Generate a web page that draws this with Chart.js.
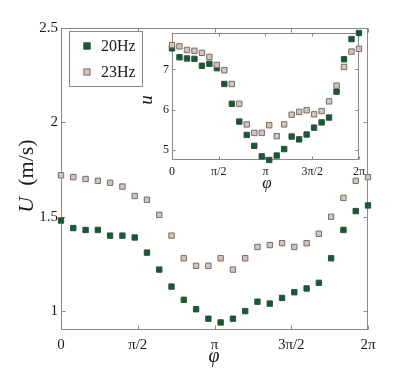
<!DOCTYPE html>
<html>
<head>
<meta charset="utf-8">
<script src="https://cdn.jsdelivr.net/npm/chart.js@4.4.0/dist/chart.umd.min.js"></script>
<style>
  html, body { margin: 0; padding: 0; background: #fff; }
  #wrap { position: relative; width: 407px; height: 371px; overflow: hidden; }
  #main { position: absolute; left: 0; top: 0; }
  #inset { position: absolute; left: 120px; top: 20px; }
</style>
</head>
<body>
<div id="wrap">
  <canvas id="main" width="407" height="371"></canvas>
  <canvas id="inset" width="250" height="180"></canvas>
</div>
<script>
// ---- data ----
const phi = [0, 0.251, 0.503, 0.754, 1.005, 1.257, 1.508, 1.759, 2.011, 2.262, 2.513, 2.765, 3.016,
             3.267, 3.519, 3.770, 4.021, 4.273, 4.524, 4.775, 5.027, 5.278, 5.529, 5.781, 6.032, 6.283];

const U20 = [1.48, 1.44, 1.43, 1.43, 1.40, 1.40, 1.39, 1.31, 1.22, 1.13, 1.06, 1.01, 0.96,
             0.94, 0.96, 1.00, 1.05, 1.04, 1.07, 1.10, 1.12, 1.15, 1.28, 1.43, 1.53, 1.56];
const U23 = [1.72, 1.71, 1.70, 1.69, 1.68, 1.66, 1.61, 1.59, 1.51, 1.40, 1.28, 1.24, 1.24,
             1.28, 1.22, 1.28, 1.34, 1.35, 1.36, 1.34, 1.36, 1.41, 1.50, 1.60, 1.69, 1.71];

const u20 = [7.52, 7.30, 7.27, 7.26, 7.09, 7.14, 7.03, 6.64, 6.15, 5.71, 5.38, 5.11, 4.85,
             4.76, 4.87, 5.03, 5.34, 5.27, 5.39, 5.56, 5.69, 5.81, 6.45, 7.25, 7.75, 7.90];
const u23 = [7.60, 7.57, 7.48, 7.46, 7.41, 7.31, 7.11, 6.98, 6.64, 6.15, 5.64, 5.43, 5.43,
             5.62, 5.35, 5.64, 5.88, 5.95, 5.99, 5.89, 5.97, 6.21, 6.60, 7.06, 7.44, 7.51];

const seriesLabels = ['20Hz', '23Hz'];
const xTicks = [0, Math.PI / 2, Math.PI, 3 * Math.PI / 2, 2 * Math.PI];
const xTickLabels = ['0', 'π/2', 'π', '3π/2', '2π'];
const mainYTicks = [1, 1.5, 2, 2.5];
const mainYTickLabels = ['1', '1.5', '2', '2.5'];
const insetYTicks = [5, 6, 7];
const insetYTickLabels = ['5', '6', '7'];

const SERIF = '"Liberation Serif", "DejaVu Serif", serif';
const AXIS = '#8a8a8a';
const GREEN = '#0c5f30';
const BEIGE = '#d8c4b6';
const EDGE = '#6f6f6f';

const toPoints = (ys) => ys.map((y, i) => ({ x: phi[i], y }));

function makeDatasets(a, b, r) {
  return [
    { label: seriesLabels[0], data: toPoints(a), backgroundColor: GREEN, borderColor: '#3c4a40',
      borderWidth: 1, pointStyle: 'rect', pointRadius: r, pointHoverRadius: r, showLine: false, clip: false, order: 1 },
    { label: seriesLabels[1], data: toPoints(b), backgroundColor: BEIGE, borderColor: EDGE,
      borderWidth: 1, pointStyle: 'rect', pointRadius: r, pointHoverRadius: r, showLine: false, clip: false, order: 0 },
  ];
}

// box + inward ticks, axis titles, optional legend
const framePlugin = {
  id: 'frame',
  beforeDraw(chart, args, o) {
    if (!o.fill) return;
    const a = chart.chartArea;
    chart.ctx.save();
    chart.ctx.fillStyle = o.fill;
    chart.ctx.fillRect(a.left, a.top, a.right - a.left, a.bottom - a.top);
    chart.ctx.restore();
  },
  beforeDatasetsDraw(chart, args, o) {
    const { ctx, chartArea: a, scales } = chart;
    const L = Math.round(a.left) + 0.5, R = Math.round(a.right) - 0.5;
    const T = Math.round(a.top) + 0.5, B = Math.round(a.bottom) - 0.5;
    ctx.save();
    ctx.strokeStyle = AXIS;
    ctx.lineWidth = 1;
    ctx.strokeRect(L, T, R - L, B - T);
    ctx.beginPath();
    scales.x.ticks.forEach((t) => {
      const px = Math.round(scales.x.getPixelForValue(t.value)) + 0.5;
      ctx.moveTo(px, B); ctx.lineTo(px, B - o.tickLen);
      ctx.moveTo(px, T); ctx.lineTo(px, T + o.tickLen);
    });
    scales.y.ticks.forEach((t) => {
      const py = Math.round(scales.y.getPixelForValue(t.value)) + 0.5;
      ctx.moveTo(L, py); ctx.lineTo(L + o.tickLen, py);
      ctx.moveTo(R, py); ctx.lineTo(R - o.tickLen, py);
    });
    ctx.stroke();
    ctx.restore();
  },
  afterDraw(chart, args, o) {
    const ctx = chart.ctx;
    ctx.save();
    ctx.fillStyle = '#1a1a1a';
    ctx.textBaseline = 'middle';
    // y title, rotated
    const yt = o.yTitle;
    ctx.translate(yt.x, yt.y);
    ctx.rotate(-Math.PI / 2);
    let total = 0;
    yt.parts.forEach((p) => { ctx.font = p.font; total += ctx.measureText(p.text).width; });
    let cx = -total / 2;
    ctx.textAlign = 'left';
    yt.parts.forEach((p) => { ctx.font = p.font; ctx.fillText(p.text, cx, 0); cx += ctx.measureText(p.text).width; });
    ctx.setTransform(1, 0, 0, 1, 0, 0);
    // x title
    const xt = o.xTitle;
    ctx.font = xt.font;
    ctx.textAlign = 'center';
    ctx.fillText(xt.text, xt.x, xt.y);
    // legend
    if (o.legend) {
      const lg = o.legend;
      ctx.fillStyle = '#fff';
      ctx.fillRect(lg.x, lg.y, lg.w, lg.h);
      ctx.strokeStyle = AXIS;
      ctx.lineWidth = 1;
      ctx.strokeRect(lg.x + 0.5, lg.y + 0.5, lg.w, lg.h);
      chart.data.datasets.forEach((ds, i) => {
        const my = lg.y + lg.rowY[i];
        const s = lg.marker;
        ctx.fillStyle = ds.backgroundColor;
        ctx.strokeStyle = ds.borderColor;
        ctx.fillRect(lg.x + lg.markX - s / 2, my - s / 2, s, s);
        ctx.strokeRect(lg.x + lg.markX - s / 2 + 0.5, my - s / 2 + 0.5, s - 1, s - 1);
        ctx.fillStyle = '#1a1a1a';
        ctx.font = lg.font;
        ctx.textAlign = 'left';
        ctx.fillText(ds.label, lg.x + lg.textX, my + 1);
      });
    }
    ctx.restore();
  },
};

function axes(yMin, yMax, yTicks, yLabels, fontSize, yWidth, xHeight, xPad) {
  return {
    x: {
      type: 'linear', min: 0, max: 2 * Math.PI,
      afterBuildTicks: (s) => { s.ticks = xTicks.map((v) => ({ value: v })); },
      afterFit: (s) => { s.height = xHeight; },
      grid: { display: false, drawTicks: false },
      border: { display: false },
      ticks: { autoSkip: false, maxRotation: 0, padding: xPad, color: '#1a1a1a',
               font: { family: SERIF, size: fontSize }, callback: (v, i) => xTickLabels[i] },
    },
    y: {
      type: 'linear', min: yMin, max: yMax,
      afterBuildTicks: (s) => { s.ticks = yTicks.map((v) => ({ value: v })); },
      afterFit: (s) => { s.width = yWidth; },
      grid: { display: false, drawTicks: false },
      border: { display: false },
      ticks: { autoSkip: false, padding: 3, color: '#1a1a1a',
               font: { family: SERIF, size: fontSize }, callback: (v, i) => yLabels[i] },
    },
  };
}

new Chart(document.getElementById('main'), {
  type: 'scatter',
  data: { datasets: makeDatasets(U20, U23, 3.8) },
  plugins: [framePlugin],
  options: {
    responsive: false,
    animation: false,
    events: [],
    layout: { padding: { left: 0, right: 39, top: 28, bottom: 0 } },
    scales: axes(0.9, 2.5, mainYTicks, mainYTickLabels, 15, 61, 41, 6),
    plugins: {
      legend: { display: false },
      tooltip: { enabled: false },
      frame: {
        tickLen: 4,
        yTitle: { x: 27, y: 176, parts: [
          { text: 'U', font: `italic 22px ${SERIF}` },
          { text: '  (m/s)', font: `22px ${SERIF}` },
        ] },
        xTitle: { text: 'φ', font: `italic 20px ${SERIF}`, x: 214, y: 357 },
        legend: { x: 69, y: 31, w: 73, h: 55, rowY: [15, 41], markX: 18, textX: 32, marker: 7,
                  font: `16px ${SERIF}` },
      },
    },
  },
});

new Chart(document.getElementById('inset'), {
  type: 'scatter',
  data: { datasets: makeDatasets(u20, u23, 3.8) },
  plugins: [framePlugin],
  options: {
    responsive: false,
    animation: false,
    events: [],
    layout: { padding: { left: 0, right: 10, top: 13, bottom: 0 } },
    scales: axes(4.76, 7.9, insetYTicks, insetYTickLabels, 12, 52, 40, 5),
    plugins: {
      legend: { display: false },
      tooltip: { enabled: false },
      frame: {
        tickLen: 3,
        fill: '#fff',
        yTitle: { x: 27, y: 80, parts: [{ text: 'u', font: `italic 19px ${SERIF}` }] },
        xTitle: { text: 'φ', font: `italic 17px ${SERIF}`, x: 147, y: 164 },
      },
    },
  },
});
</script>
</body>
</html>
